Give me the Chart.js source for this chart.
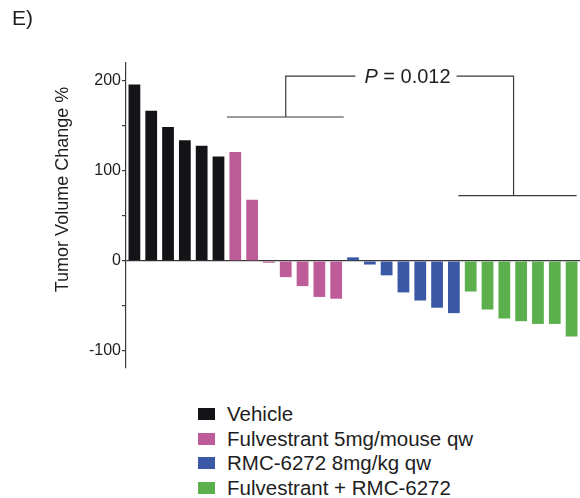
<!DOCTYPE html>
<html>
<head>
<meta charset="utf-8">
<script src="https://cdn.jsdelivr.net/npm/chart.js@4"></script>
<style>
  body { margin: 0; background: #fff; font-family: "Liberation Sans", Arial, sans-serif; color: #1e1e1e; }
  #wrap { position: relative; width: 580px; height: 498px; }
  #panel { position: absolute; left: 12px; top: 6px; font-size: 21px; }
  #legend { position: absolute; left: 198px; top: 402px; font-size: 20.5px; }
  #legend .row { display: flex; align-items: center; height: 24.5px; }
  #legend .box { width: 17px; height: 12px; margin-right: 12px; }
</style>
</head>
<body>
<div id="wrap">
  <canvas id="waterfall" width="580" height="400"></canvas>
  <div id="panel">E)</div>
  <div id="legend"></div>
</div>
<script>
// データ（各群は降順に並べたもの）
var categories = [
  "V1", "V2", "V3", "V4", "V5", "V6",
  "F1", "F2", "F3", "F4", "F5", "F6", "F7",
  "R1", "R2", "R3", "R4", "R5", "R6", "R7",
  "C1", "C2", "C3", "C4", "C5", "C6", "C7"
];
var groupNames = ["Vehicle", "Fulvestrant 5mg/mouse qw", "RMC-6272 8mg/kg qw", "Fulvestrant + RMC-6272"];
var vehicle = [196, 167, 149, 134, 128, 116];
var fulvestrant = [121, 68, -2, -18, -28, -40, -42];
var rmc6272 = [4, -4, -16, -35, -44, -52, -58];
var combo = [-34, -54, -64, -67, -70, -70, -84];
var yTicks = [-100, 0, 100, 200];
var pText = "0.012";

var colors = ["#141418", "#bd5c98", "#3a58a6", "#5bb04d"];
var groups = [vehicle, fulvestrant, rmc6272, combo];

// 各群を27本分の配列に展開（他群の位置はnull）
var datasets = [];
var offset = 0;
groups.forEach(function (vals, g) {
  var arr = categories.map(function () { return null; });
  vals.forEach(function (v, i) { arr[offset + i] = v; });
  offset += vals.length;
  datasets.push({ label: groupNames[g], data: arr, backgroundColor: colors[g] });
});

var axisColor = "#3a3a3a";
var fontFamily = "'Liberation Sans', Arial, sans-serif";

// P値のブラケットとy軸タイトル
var extras = {
  id: "extras",
  afterDraw: function (chart) {
    var c = chart.ctx, x = chart.scales.x, y = chart.scales.y;
    var px = function (v) { return x.getPixelForValue(v); };
    var py = function (v) { return y.getPixelForValue(v); };
    c.save();
    c.strokeStyle = axisColor;
    c.lineWidth = 1.2;
    var topY = py(205.5);
    // テキスト
    c.fillStyle = "#1e1e1e";
    c.textBaseline = "middle";
    c.font = "italic 20px " + fontFamily;
    var w1 = c.measureText("P").width;
    c.font = "20px " + fontFamily;
    var rest = " = " + pText;
    var w2 = c.measureText(rest).width;
    var cx = px(16.24);
    var tx = cx - (w1 + w2) / 2;
    c.font = "italic 20px " + fontFamily;
    c.fillText("P", tx, topY + 1.5);
    c.font = "20px " + fontFamily;
    c.fillText(rest, tx + w1, topY + 1.5);
    c.beginPath();
    // 左ブラケット
    c.moveTo(px(5.5), py(160)); c.lineTo(px(12.45), py(160));
    c.moveTo(px(9), py(160)); c.lineTo(px(9), topY);
    c.lineTo(tx - 9, topY);
    // 右ブラケット
    c.moveTo(tx + w1 + w2 + 6, topY); c.lineTo(px(22.55), topY);
    c.lineTo(px(22.55), py(72.5));
    c.moveTo(px(19.27), py(72.5)); c.lineTo(px(26.3), py(72.5));
    c.stroke();
    // y軸タイトル
    c.translate(63, 189.5);
    c.rotate(-Math.PI / 2);
    c.textAlign = "center";
    c.font = "18px " + fontFamily;
    c.fillText("Tumor Volume Change %", 0, 0);
    c.restore();
  }
};

var ctx = document.getElementById("waterfall");
var chart = new Chart(ctx, {
  type: "bar",
  data: { labels: categories, datasets: datasets },
  plugins: [extras],
  options: {
    responsive: false,
    animation: false,
    layout: { padding: { left: 0, top: 63, right: 0, bottom: 32 } },
    datasets: { bar: { skipNull: true, categoryPercentage: 1, barPercentage: 0.7 } },
    plugins: { legend: { display: false }, tooltip: { enabled: false } },
    scales: {
      x: { display: false },
      y: {
        min: -119,
        max: 220,
        afterFit: function (s) { s.width = 126; },
        border: { display: true, color: axisColor, width: 1.2 },
        grid: {
          drawOnChartArea: true,
          drawTicks: true,
          tickLength: 4,
          tickColor: axisColor,
          lineWidth: 1.2,
          color: function (c) { return c.tick && c.tick.value === 0 ? axisColor : "transparent"; }
        },
        ticks: {
          stepSize: 50,
          includeBounds: false,
          padding: 1,
          color: "#1e1e1e",
          font: { family: fontFamily, size: 16 },
          callback: function (v) { return yTicks.indexOf(v) >= 0 ? String(v) : ""; }
        }
      }
    }
  }
});

// 凡例
var legend = document.getElementById("legend");
chart.data.datasets.forEach(function (ds) {
  var row = document.createElement("div");
  row.className = "row";
  var box = document.createElement("span");
  box.className = "box";
  box.style.background = ds.backgroundColor;
  var txt = document.createElement("span");
  txt.textContent = ds.label;
  row.appendChild(box);
  row.appendChild(txt);
  legend.appendChild(row);
});
</script>
</body>
</html>
